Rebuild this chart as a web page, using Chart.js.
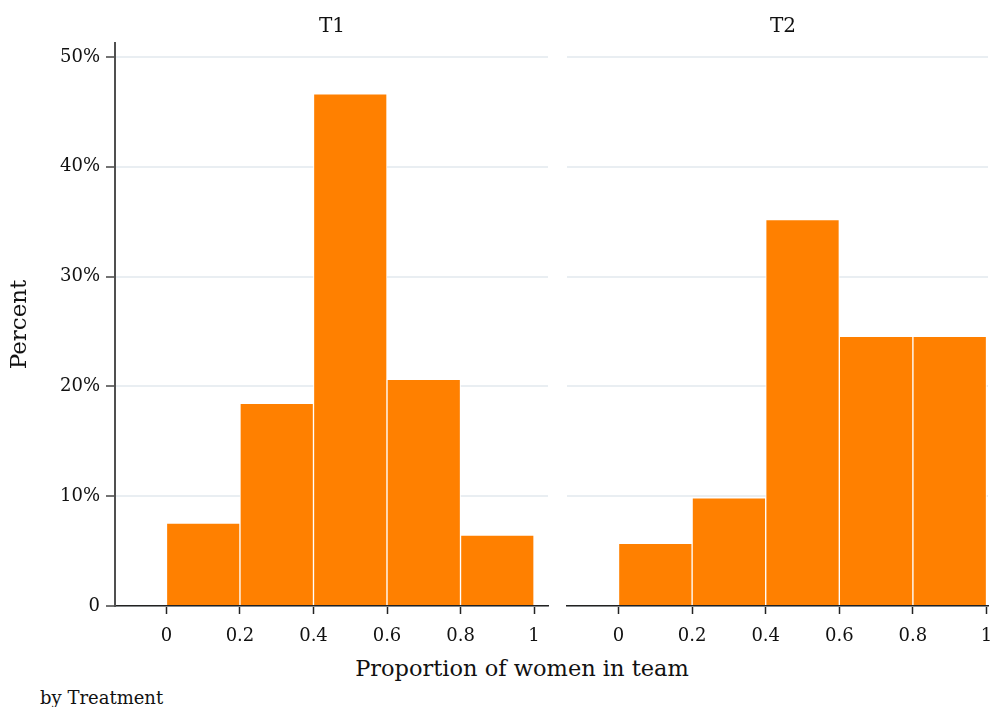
<!DOCTYPE html>
<html>
<head>
<meta charset="utf-8">
<script src="https://cdn.jsdelivr.net/npm/chart.js@4.4.1/dist/chart.umd.min.js"></script>
<style>
  body { margin: 0; background: #fff; overflow: hidden; }
  #wrap { position: relative; width: 990px; height: 707px; overflow: hidden; font-family: "DejaVu Serif", serif; color: #111; }
  canvas { position: absolute; top: 0; }
  .lbl { position: absolute; white-space: nowrap; transform: translate(-50%, -50%); }
</style>
</head>
<body>
<div id="wrap">
  <canvas id="t1" width="556" height="650" style="left:0"></canvas>
  <canvas id="t2" width="434" height="650" style="left:556px"></canvas>
  <div class="lbl" style="left:332px;top:25px;font-size:20px">T1</div>
  <div class="lbl" style="left:783px;top:25px;font-size:20px">T2</div>
  <div class="lbl" style="left:522px;top:668px;font-size:22.5px">Proportion of women in team</div>
  <div class="lbl" style="left:40px;top:697px;font-size:18px;transform:translate(0,-50%)">by Treatment</div>
</div>
<script>
// bin centres (width 0.2) and percent of teams in each bin
const binCenters = [0.1, 0.3, 0.5, 0.7, 0.9];
const t1Values = [7.55, 18.45, 46.65, 20.65, 6.45];
const t2Values = [5.7, 9.85, 35.2, 24.55, 24.55];
const xTicks = [0, 0.2, 0.4, 0.6, 0.8, 1];
const yTicks = [0, 10, 20, 30, 40, 50];

const FONT = { family: "'DejaVu Serif', serif", size: 18 };
const ORANGE = '#ff8000';
const GRID = '#e9eef2';

function makeChart(id, values, first) {
  return new Chart(document.getElementById(id), {
    type: 'bar',
    data: {
      datasets: [{
        data: binCenters.map((c, i) => ({ x: c, y: values[i] })),
        backgroundColor: ORANGE,
        borderColor: '#ffffff',
        borderWidth: 1,
        barPercentage: 1,
        categoryPercentage: 1
      }]
    },
    options: {
      responsive: false,
      animation: false,
      devicePixelRatio: 1,
      layout: { padding: { top: 43, right: first ? 8 : 2, left: 0, bottom: 0 } },
      plugins: { legend: { display: false }, tooltip: { enabled: false } },
      scales: {
        x: {
          type: 'linear',
          offset: false,
          min: -0.14,
          max: first ? 1.038 : 1.004,
          afterBuildTicks: s => { s.ticks = xTicks.map(v => ({ value: v })); },
          afterFit: s => { s.height = 44; s.paddingLeft = 0; s.paddingRight = 0; },
          ticks: { font: FONT, color: '#111', padding: 12, maxRotation: 0, autoSkip: false,
                   callback: v => String(v) },
          grid: { offset: false, drawOnChartArea: false, drawTicks: true, tickLength: 8, tickColor: '#222', tickWidth: 1.5 },
          border: { display: true, color: '#222', width: 1.5 }
        },
        y: {
          min: 0,
          max: 51.27,
          afterBuildTicks: s => { s.ticks = yTicks.map(v => ({ value: v })); },
          afterFit: s => { s.width = first ? 115 : 11; s.paddingTop = 0; s.paddingBottom = 0; },
          ticks: { display: first, font: FONT, color: '#111', padding: 6,
                   callback: v => v === 0 ? '0' : v + '%' },
          grid: { color: GRID, lineWidth: 2, drawTicks: first, tickLength: 9, tickColor: '#444', tickWidth: 1.5 },
          border: { display: first, color: '#505050', width: 2 },
          title: { display: first, text: 'Percent', color: '#111',
                   font: { family: "'DejaVu Serif', serif", size: 23 }, padding: { top: 6, bottom: 0 } }
        }
      }
    }
  });
}

makeChart('t1', t1Values, true);
makeChart('t2', t2Values, false);
</script>
</body>
</html>
